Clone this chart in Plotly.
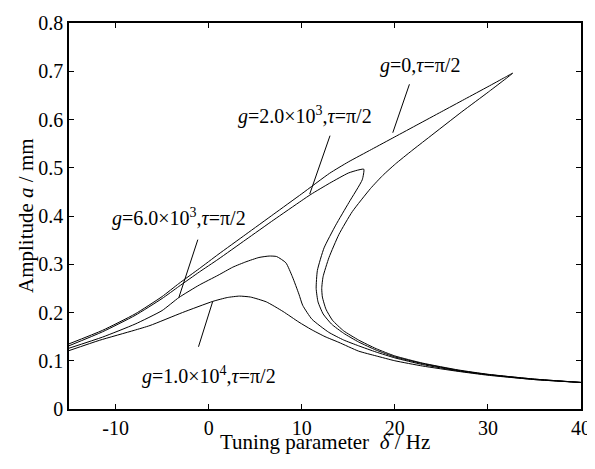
import plotly.graph_objects as go

# ---- data ----
g0_x = [-15, -11.4, -7.9, -5, -3.2, -1, 1, 4, 7, 10, 13, 15, 17.5, 20, 22.5, 25, 27.5, 30, 31.8, 32.66,
        30.05, 27.2, 23.63, 21.8, 20.07, 18.7, 17.39, 15.43, 14.0, 12.93, 12.29, 12.15, 12.22, 12.6, 13.3,
        14.5, 16.1, 18, 20, 23, 26.8, 30, 35, 40]
g0_y = [0.135, 0.163, 0.197, 0.233, 0.26, 0.291, 0.32, 0.362, 0.404, 0.446, 0.4886, 0.512, 0.538, 0.564,
        0.59, 0.616, 0.642, 0.668, 0.687, 0.696,
        0.657, 0.616, 0.5625, 0.535, 0.508, 0.484, 0.457, 0.409, 0.362, 0.314, 0.274, 0.25, 0.232, 0.207,
        0.184, 0.162, 0.143, 0.125, 0.11, 0.095, 0.081, 0.072, 0.062, 0.055]

g2_x = [-15, -11.4, -7.9, -5, -3.2, -1, 1, 4, 7, 10, 11, 13, 15, 16, 16.67,
        16.5, 15.07, 13.65, 12.4, 11.68, 11.55, 11.75, 12.3, 13.2, 14.5, 16.1, 18, 20, 23, 26.8, 30, 35, 40]
g2_y = [0.131, 0.160, 0.194, 0.229, 0.254, 0.284, 0.31, 0.351, 0.392, 0.432, 0.445, 0.468, 0.489, 0.495, 0.497,
        0.475, 0.428, 0.381, 0.334, 0.287, 0.25, 0.222, 0.197, 0.176, 0.157, 0.139, 0.122, 0.108, 0.094,
        0.080, 0.0715, 0.062, 0.055]

g6_x = [-15, -11.4, -7.9, -5, -3.2, -1, 1, 2.6, 4, 5.4, 6.5, 7.3, 8.3, 9.0, 9.7, 10.1, 11.1, 12.9, 14.5,
        16.1, 18, 20, 23, 26.8, 30, 35, 40]
g6_y = [0.126, 0.149, 0.176, 0.204, 0.231, 0.257, 0.277, 0.294, 0.305, 0.314, 0.317, 0.316, 0.303, 0.274,
        0.238, 0.215, 0.186, 0.159, 0.143, 0.131, 0.118, 0.106, 0.092, 0.079, 0.071, 0.061, 0.055]

g10_x = [-15, -11.7, -8, -6.3, -2.8, 0.44, 2, 3.3, 4.5, 6.2, 8, 9.7, 11, 12.5, 14, 16.1, 18, 20, 23, 26.8,
         30, 35, 40]
g10_y = [0.121, 0.1425, 0.163, 0.173, 0.2, 0.223, 0.231, 0.234, 0.232, 0.222, 0.202, 0.18, 0.165, 0.15,
         0.138, 0.12, 0.11, 0.1, 0.089, 0.078, 0.07, 0.061, 0.055]

x_ticks = [-10, 0, 10, 20, 30, 40]
x_tick_text = ["-10", "0", "10", "20", "30", "40"]
y_ticks = [0, 0.1, 0.2, 0.3, 0.4, 0.5, 0.6, 0.7, 0.8]
y_tick_text = ["0", "0.1", "0.2", "0.3", "0.4", "0.5", "0.6", "0.7", "0.8"]

labels = [
    "<i>g</i>=0,<i>τ</i>=π/2",
    "<i>g</i>=2.0×10<sup>3</sup>,<i>τ</i>=π/2",
    "<i>g</i>=6.0×10<sup>3</sup>,<i>τ</i>=π/2",
    "<i>g</i>=1.0×10<sup>4</sup>,<i>τ</i>=π/2",
]

# ---- layout/decoration positions ----
label_pos = [(22.72, 0.712), (10.31, 0.609), (-3.18, 0.397), (0.09, 0.07)]
leader = [((21.57, 0.673), (19.78, 0.5726)),
          ((13.04, 0.5665), (10.86, 0.4456)),
          ((-1.16, 0.351), (-3.2, 0.231)),
          ((-1.09, 0.129), (0.44, 0.223))]

FONT = "Liberation Serif, Times New Roman, serif"

fig = go.Figure()
for xs, ys in [(g0_x, g0_y), (g2_x, g2_y), (g6_x, g6_y), (g10_x, g10_y)]:
    fig.add_trace(go.Scatter(x=xs, y=ys, mode="lines",
                             line=dict(color="black", width=1, shape="spline", smoothing=0.5),
                             showlegend=False, hoverinfo="skip"))

for (p0, p1) in leader:
    fig.add_shape(type="line", xref="x", yref="y", x0=p0[0], y0=p0[1], x1=p1[0], y1=p1[1],
                  line=dict(color="black", width=1))

for txt, (lx, ly) in zip(labels, label_pos):
    fig.add_annotation(x=lx, y=ly, xref="x", yref="y", text=txt, showarrow=False,
                       font=dict(family=FONT, size=20, color="black"),
                       xanchor="center", yanchor="middle")

fig.add_annotation(xref="paper", yref="paper", x=0.5, y=0, yshift=-33, text="Tuning parameter  <i>δ</i> / Hz",
                   showarrow=False, font=dict(family=FONT, size=21, color="black"),
                   xanchor="center", yanchor="middle")
fig.add_annotation(xref="paper", yref="paper", x=0, y=0.5, xshift=-43, text="Amplitude <i>a</i> / mm",
                   textangle=-90, showarrow=False, font=dict(family=FONT, size=21, color="black"),
                   xanchor="center", yanchor="middle")

axis_common = dict(showline=True, linecolor="black", linewidth=1.5, mirror="ticks", ticks="inside",
                   ticklen=5, tickwidth=1, tickcolor="black", showgrid=False, zeroline=False,
                   ticklabeloverflow="allow",
                   tickfont=dict(family=FONT, size=20, color="black"))
fig.update_xaxes(range=[-15, 40], tickvals=x_ticks, ticktext=x_tick_text, **axis_common)
fig.update_yaxes(range=[0, 0.8], tickvals=y_ticks, ticktext=y_tick_text, **axis_common)

# page body keeps its 8px margin: figure is shifted so the plot area lands where the reference has it
fig.update_layout(width=587, height=453, margin=dict(l=61, r=12, t=4, b=52),
                  plot_bgcolor="white", paper_bgcolor="white")

fig.write_html("out.html",
               config={"displayModeBar": False, "responsive": False},
               post_script="document.documentElement.style.overflow='hidden';")
